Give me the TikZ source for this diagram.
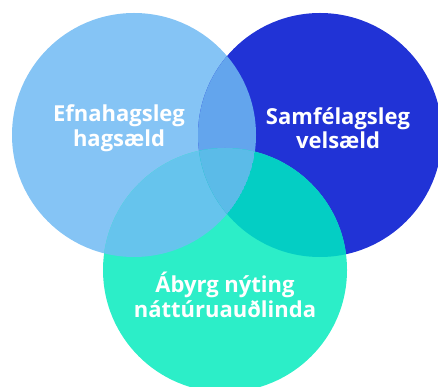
\documentclass[tikz,border=0pt]{standalone}
\usepackage{fontspec}
\setmainfont{Open Sans}
\definecolor{oekblue}{HTML}{85C4F5}
\definecolor{samblue}{HTML}{2133D6}
\definecolor{natgreen}{HTML}{2CEEC8}
\definecolor{oeksam}{HTML}{63A5ED}
\definecolor{oeknat}{HTML}{66C4ED}
\definecolor{samnat}{HTML}{04CEC4}
\definecolor{allthree}{HTML}{5BBBE8}
\tikzset{
  label/.style={text=white,align=center,font=\fontsize{22}{24.5}\selectfont\bfseries}
}
\begin{document}
\begin{tikzpicture}[x=1pt,y=-1pt]
\useasboundingbox (0,0) rectangle (438,387);

\coordinate (oek) at (134,135);
\coordinate (sam) at (320,135);
\coordinate (nat) at (225,270);

% the three circles
\fill[oekblue] (oek) circle (122pt);
\fill[samblue] (sam) circle (122pt);
\fill[natgreen] (nat) circle (122pt);

% overlaps
\begin{scope}
\clip (oek) circle (122pt);
\fill[oeksam] (sam) circle (122pt);
\fill[oeknat] (nat) circle (122pt);
\clip (sam) circle (122pt);
\fill[allthree] (nat) circle (122pt);
\end{scope}
\begin{scope}
\clip (sam) circle (122pt);
\clip (nat) circle (122pt);
\fill[samnat] (sam) circle (122pt);
\clip (oek) circle (122pt);
\fill[allthree] (oek) circle (122pt);
\end{scope}

\node[label] (oektext) at (119,128) {Efnahagsleg\\hagsæld};
\node[label] (samtext) at (338,128) {Samfélagsleg\\velsæld};
\node[label] (nattext) at (225,295) {Ábyrg nýting\\náttúruauðlinda};
\end{tikzpicture}
\end{document}
